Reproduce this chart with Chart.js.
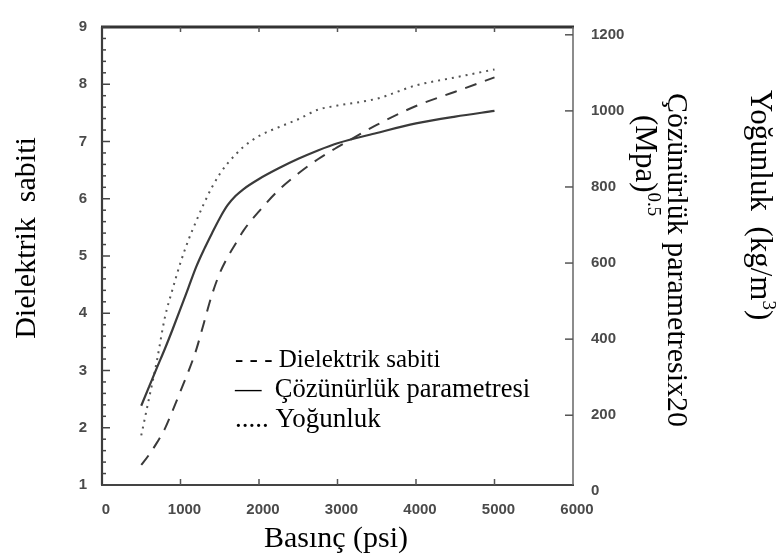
<!DOCTYPE html>
<html>
<head>
<meta charset="utf-8">
<script src="https://cdn.jsdelivr.net/npm/chart.js@4/dist/chart.umd.min.js"></script>
<style>
  html, body { margin: 0; padding: 0; background: #fff; }
  canvas { display: block; }
</style>
</head>
<body>
<canvas id="c" width="780" height="560"></canvas>
<script>
// Pressure (psi) at which the three properties are tabulated
const pressure = [500, 600, 700, 800, 900, 1000, 1100, 1200, 1300, 1400, 1500, 1600,
                  1700, 1800, 2000, 2250, 2500, 2750, 3000, 3500, 4000, 4500, 5000];

// Dielectric constant (left axis)
const dielectric = [1.35, 1.53, 1.74, 1.98, 2.30, 2.64, 2.98, 3.36, 3.84, 4.32, 4.70, 4.98,
                    5.21, 5.44, 5.78, 6.15, 6.44, 6.69, 6.90, 7.29, 7.62, 7.87, 8.12];

// Solubility parameter x20, (MPa)^0.5 (right axis)
const solubility = [225, 275, 325, 374, 426, 480, 535, 590, 636, 678, 718, 752,
                    776, 794, 821, 849, 874, 896, 915, 942, 967, 985, 1000];

// Density, kg/m3 (right axis)
const density = [147, 245, 344, 456, 532, 601, 660, 710, 757, 799, 834, 862,
                 885, 905, 934, 957, 978, 1003, 1014, 1032, 1067, 1088, 1109];

const xTicks = [0, 1000, 2000, 3000, 4000, 5000, 6000];
const leftTicks = [1, 2, 3, 4, 5, 6, 7, 8, 9];
const rightTicks = [0, 200, 400, 600, 800, 1000, 1200];

// Legend rows: text and font size
const legendRows = [
  ['- - - Dielektrik sabiti', 25],
  ['\u2014  \u00C7\u00F6z\u00FCn\u00FCrl\u00FCk parametresi', 26.5],
  ['..... Yo\u011Funluk', 27]
];

const pts = ys => pressure.map((p, i) => ({ x: p, y: ys[i] }));

const tickFont = { family: "'Liberation Sans', Arial, sans-serif", size: 15, weight: 'bold' };
const tickColor = '#4a4a4a';
const serif = "'Liberation Serif', 'Times New Roman', serif";

// Frame lines and inward-pointing tick marks
const framePlugin = {
  id: 'frame',
  afterDatasetsDraw(chart) {
    const { ctx, chartArea: a, scales: { x, y, y1 } } = chart;
    const seg = (x0, y0, x1, y1_) => { ctx.beginPath(); ctx.moveTo(x0, y0); ctx.lineTo(x1, y1_); ctx.stroke(); };
    ctx.save();
    ctx.lineCap = 'butt';
    // top border
    ctx.strokeStyle = '#333'; ctx.lineWidth = 3;
    seg(a.left - 1, a.top, a.right + 1, a.top);
    // bottom axis
    ctx.strokeStyle = '#444'; ctx.lineWidth = 2;
    seg(a.left - 1, a.bottom, a.right + 1, a.bottom);
    // left axis
    ctx.strokeStyle = '#3c3c3c'; ctx.lineWidth = 2.2;
    seg(a.left, a.top, a.left, a.bottom);
    // right axis
    ctx.strokeStyle = '#666'; ctx.lineWidth = 1.5;
    seg(a.right, a.top, a.right, a.bottom);

    // x ticks, bottom and top
    ctx.strokeStyle = '#555'; ctx.lineWidth = 1.5;
    xTicks.slice(1, -1).forEach(v => {
      const px = x.getPixelForValue(v);
      seg(px, a.bottom, px, a.bottom - 6);
      seg(px, a.top, px, a.top + 5);
    });
    // left ticks: majors every 1, minors every 0.2
    ctx.strokeStyle = '#444'; ctx.lineWidth = 1.5;
    for (let k = 0; k <= 40; k++) {
      const v = 1 + k * 0.2;
      const py = y.getPixelForValue(v);
      const len = (k % 5 === 0) ? 8 : 4;
      seg(a.left, py, a.left + len, py);
    }
    // right ticks (only those inside the frame)
    ctx.strokeStyle = '#555'; ctx.lineWidth = 1.5;
    rightTicks.forEach(v => {
      const py = y1.getPixelForValue(v);
      if (py > a.top + 2 && py < a.bottom - 2) seg(a.right, py, a.right - 8, py);
    });
    ctx.restore();
  }
};

// Axis titles and the text legend
const textPlugin = {
  id: 'texts',
  afterDraw(chart) {
    const { ctx } = chart;
    ctx.save();
    ctx.fillStyle = '#000';
    ctx.textBaseline = 'alphabetic';

    // legend
    ctx.textAlign = 'left';
    legendRows.forEach(([t, size], i) => {
      ctx.font = `${size}px ${serif}`;
      ctx.fillText(t, 235, 367 + i * 30);
    });

    // x title
    ctx.font = `30px ${serif}`;
    ctx.textAlign = 'center';
    ctx.fillText('Bas\u0131n\u00E7 (psi)', 336, 547);

    // left title
    ctx.save();
    ctx.translate(35, 238);
    ctx.rotate(-Math.PI / 2);
    ctx.textAlign = 'center';
    ctx.font = `30px ${serif}`;
    ctx.fillText('Dielektrik  sabiti', 0, 0);
    ctx.restore();

    // right titles, reading top to bottom
    const vertical = (parts, bx, by) => {
      ctx.save();
      ctx.translate(bx, by);
      ctx.rotate(Math.PI / 2);
      ctx.textAlign = 'left';
      let cx = 0;
      parts.forEach(([txt, size, rise]) => {
        ctx.font = `${size}px ${serif}`;
        ctx.fillText(txt, cx, -rise);
        cx += ctx.measureText(txt).width;
      });
      ctx.restore();
    };
    vertical([['Yo\u011Funluk  (kg/m', 31, 0], ['3', 19, 12], [')', 31, 0]], 751, 90);
    vertical([['\u00C7\u00F6z\u00FCn\u00FCrl\u00FCk parametresix20', 30, 0]], 668, 93);
    vertical([['(Mpa)', 31, 0], ['0.5', 19, 12]], 636, 115);

    ctx.restore();
  }
};

new Chart(document.getElementById('c'), {
  type: 'line',
  data: {
    datasets: [
      {
        label: 'Dielektrik sabiti',
        data: pts(dielectric),
        yAxisID: 'y',
        borderColor: '#3a3a3a',
        borderWidth: 2,
        borderDash: [12, 9],
        pointRadius: 0,
        cubicInterpolationMode: 'monotone',
        fill: false
      },
      {
        label: 'Çözünürlük parametresi',
        data: pts(solubility),
        yAxisID: 'y1',
        borderColor: '#3a3a3a',
        borderWidth: 2.2,
        pointRadius: 0,
        cubicInterpolationMode: 'monotone',
        fill: false
      },
      {
        label: 'Yoğunluk',
        data: pts(density),
        yAxisID: 'y1',
        borderColor: '#555',
        borderWidth: 2,
        borderDash: [2, 5],
        pointRadius: 0,
        cubicInterpolationMode: 'monotone',
        fill: false
      }
    ]
  },
  options: {
    responsive: false,
    animation: false,
    devicePixelRatio: 1,
    layout: { padding: { top: 15, left: 0, right: 0, bottom: 0 } },
    plugins: { legend: { display: false }, tooltip: { enabled: false } },
    scales: {
      x: {
        type: 'linear',
        position: 'bottom',
        min: xTicks[0],
        max: xTicks[xTicks.length - 1],
        afterBuildTicks: s => { s.ticks = xTicks.map(v => ({ value: v })); },
        afterFit: s => { s.height = 75; },
        grid: { display: false, drawTicks: false },
        border: { display: false },
        ticks: {
          callback: v => String(v),
          autoSkip: false,
          maxRotation: 0,
          padding: 16,
          labelOffset: 4,
          font: tickFont,
          color: tickColor
        }
      },
      y: {
        position: 'left',
        min: leftTicks[0],
        max: leftTicks[leftTicks.length - 1],
        afterBuildTicks: s => { s.ticks = leftTicks.map(v => ({ value: v })); },
        afterFit: s => { s.width = 102; },
        grid: { display: false, drawTicks: false },
        border: { display: false },
        ticks: { callback: v => String(v), padding: 15, font: tickFont, color: tickColor }
      },
      y1: {
        position: 'right',
        min: 16.6,
        max: 1220.5,
        afterBuildTicks: s => { s.ticks = rightTicks.map(v => ({ value: v })); },
        afterFit: s => { s.width = 207; },
        grid: { display: false, drawTicks: false },
        border: { display: false },
        ticks: { callback: v => String(v), padding: 18, font: tickFont, color: tickColor }
      }
    }
  },
  plugins: [framePlugin, textPlugin]
});
</script>
</body>
</html>
